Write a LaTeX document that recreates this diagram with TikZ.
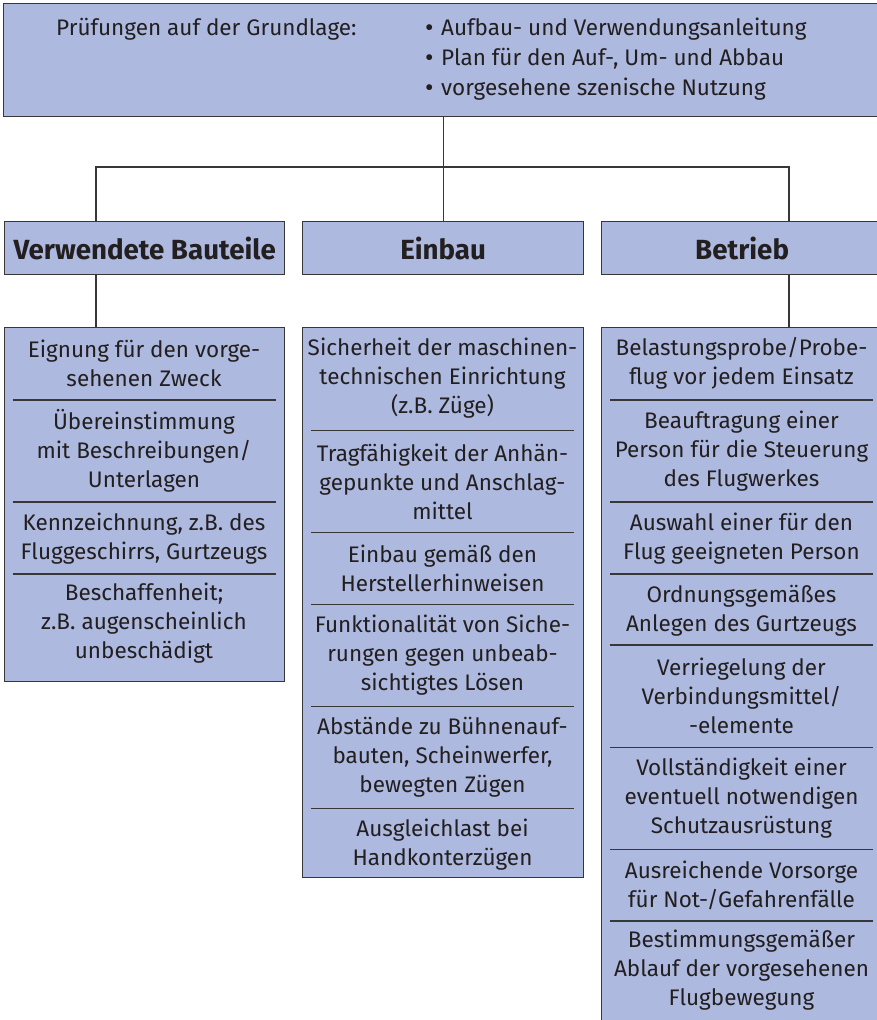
\documentclass[tikz,border=0pt]{standalone}
\usepackage{fontspec}
\setmainfont{Fira Sans}
\definecolor{boxfill}{RGB}{173,185,222}
\definecolor{edge}{RGB}{55,55,55}
\definecolor{ink}{RGB}{35,31,32}
\newcommand{\blt}{\makebox[16pt][l]{\raisebox{-1.5pt}{\fontsize{26}{29}\selectfont •}}}
\begin{document}
\begin{tikzpicture}[x=1pt,y=-1pt,
  panel/.style={draw=edge, fill=boxfill, line width=1.3pt, rectangle, inner sep=0pt, anchor=north west},
  conn/.style={draw=edge, line width=1.3pt},
  sep/.style={draw=edge, line width=1.2pt},
  item/.style={text=ink, align=center, font=\fontsize{22.5}{29}\selectfont, inner sep=0pt},
  toptext/.style={text=ink, font=\fontsize{22.5}{29}\selectfont, inner sep=0pt, anchor=base west},
  head/.style={text=ink, font=\fontsize{27.7}{32}\selectfont\bfseries}]
\useasboundingbox (0,0) rectangle (877,1020);
\clip (0,0) rectangle (877,1020);
% top box
\node[panel, minimum width=879pt, minimum height=113pt] (top) at (3,3) {};
\node[toptext] (lbl) at (56,35) {Prüfungen auf der Grundlage:};
\node[toptext] (b1) at (425,35) {\blt Aufbau- und Verwendungsanleitung};
\node[toptext] (b2) at (425,65) {\blt Plan für den Auf-, Um- und Abbau};
\node[toptext] (b3) at (425,95) {\blt vorgesehene szenische Nutzung};
% headers
\node[panel, minimum width=280pt, minimum height=53pt] (h1) at (4,221) {};
\node[head] (h1t) at (h1.center) {Verwendete Bauteile};
\node[panel, minimum width=281pt, minimum height=53pt] (h2) at (302,221) {};
\node[head] (h2t) at (h2.center) {Einbau};
\node[panel, minimum width=281pt, minimum height=53pt] (h3) at (601,221) {};
\node[head] (h3t) at (h3.center) {Betrieb};
% columns
\node[panel, minimum width=280pt, minimum height=354pt] (c1) at (4,327) {};
\node[panel, minimum width=281pt, minimum height=550pt] (c2) at (302,327) {};
\node[panel, minimum width=281pt, minimum height=720pt] (c3) at (601,327) {};
% connectors
\coordinate (jl) at (96,167);
\coordinate (jr) at (789,167);
\draw[conn] (top.south) -- (h2.north);
\draw[conn] (h1.north -| jl) -- (jl) -- (jr) -- (h3.north -| jr);
\draw[conn] (h1.south -| jl) -- (c1.north -| jl);
\draw[conn] (h3.south -| jr) -- (c3.north -| jr);
% separators
\foreach \y in {400,502,574} \draw[sep] (12.5,\y) -- (275.5,\y);
\foreach \y in {430.7,532.3,604.3,706.7,808.3} \draw[sep] (311,\y) -- (574,\y);
\foreach \y in {400,502,574,645,747.3,849.3,921} \draw[sep] (610,\y) -- (873,\y);
% column 1
\node[item] (c1a) at (144,363.5) {Eignung für den vorge-\\sehenen Zweck};
\node[item] (c1b) at (144,451) {Übereinstimmung\\mit Beschreibungen/\\Unterlagen};
\node[item] (c1c) at (144,538.5) {Kennzeichnung, z.B. des\\Fluggeschirrs, Gurtzeugs};
\node[item] (c1d) at (144,623) {Beschaffenheit;\\z.B. augenscheinlich\\unbeschädigt};
% column 2
\node[item] (c2a) at (442.5,378) {Sicherheit der maschinen-\\technischen Einrichtung\\(z.B. Züge)};
\node[item] (c2b) at (442.5,481.7) {Tragfähigkeit der Anhän-\\gepunkte und Anschlag-\\mittel};
\node[item] (c2c) at (442.5,568.8) {Einbau gemäß den\\Herstellerhinweisen};
\node[item] (c2d) at (442.5,655.3) {Funktionalität von Siche-\\rungen gegen unbeab-\\sichtigtes Lösen};
\node[item] (c2e) at (442.5,757.7) {Abstände zu Bühnenauf-\\bauten, Scheinwerfer,\\bewegten Zügen};
\node[item] (c2f) at (442.5,844.8) {Ausgleichlast bei\\Handkonterzügen};
% column 3
\node[item] (c3a) at (741.5,363.5) {Belastungsprobe/Probe-\\flug vor jedem Einsatz};
\node[item] (c3b) at (741.5,451) {Beauftragung einer\\Person für die Steuerung\\des Flugwerkes};
\node[item] (c3c) at (741.5,538.5) {Auswahl einer für den\\Flug geeigneten Person};
\node[item] (c3d) at (741.5,610.5) {Ordnungsgemäßes\\Anlegen des Gurtzeugs};
\node[item] (c3e) at (741.5,696) {Verriegelung der\\Verbindungsmittel/\\-elemente};
\node[item] (c3f) at (741.5,798.3) {Vollständigkeit einer\\eventuell notwendigen\\Schutzausrüstung};
\node[item] (c3g) at (741.5,885.8) {Ausreichende Vorsorge\\für Not-/Gefahrenfälle};
\node[item] (c3h) at (741.5,970) {Bestimmungsgemäßer\\Ablauf der vorgesehenen\\Flugbewegung};
\end{tikzpicture}
\end{document}
